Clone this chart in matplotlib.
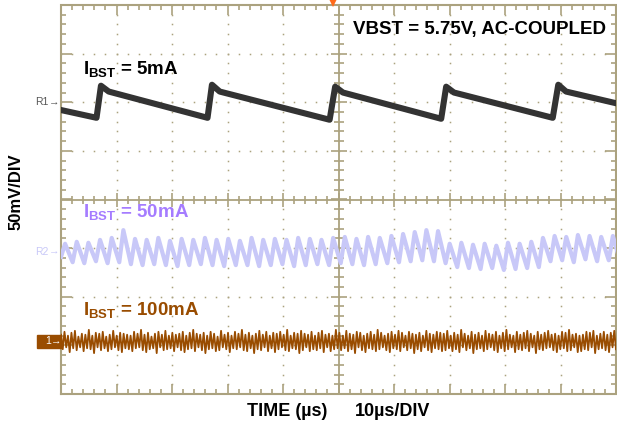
import numpy as np
import matplotlib
matplotlib.use("Agg")
import matplotlib.pyplot as plt
from matplotlib.patches import Rectangle

plt.rcParams['font.family'] = ['Liberation Sans', 'DejaVu Sans']
plt.rcParams['mathtext.fontset'] = 'custom'
plt.rcParams['mathtext.rm'] = 'Liberation Sans:bold'
plt.rcParams['mathtext.bf'] = 'Liberation Sans:bold'
plt.rcParams['mathtext.it'] = 'Liberation Sans:bold'

# scope setup: 10us/div, 50mV/div, 10 x 8 divisions
us_per_div = 10
mv_per_div = 50
n_hdiv, n_vdiv = 10, 8

# channel offsets, in divisions from screen centre
offset_5ma = 2.0
offset_50ma = -1.07
offset_100ma = -2.92

# IBST = 5mA: sawtooth corners (time in us, ripple in mV)
t_5ma = [0, 6.4, 7.2, 8.6, 26.4, 27.2, 28.6, 48.4, 49.4, 50.8,
         68.5, 69.4, 70.8, 88.6, 89.6, 91.0, 100]
v_5ma = [-8, -16, 17, 11, -16, 18, 11, -18, 16, 10,
         -17, 16, 10, -16, 18, 11, -1]

# IBST = 50mA: ripple period (us) and peak / valley of each cycle (mV)
period_50ma = 2.1
peak_50ma = [8, 10, 9, 12, 14, 22, 13, 12, 14, 11,
             13, 12, 14, 12, 13, 11, 14, 12, 13, 12,
             14, 13, 12, 14, 15, 13, 15, 14, 16, 18,
             20, 22, 21, 8, 9, 7, 8, 6, 9, 8,
             10, 14, 16, 15, 17, 16, 15, 16]
valley_50ma = [-11, -12, -10, -12, -11, -13, -14, -13, -14, -15,
               -14, -13, -14, -15, -14, -14, -15, -14, -13, -15,
               -14, -13, -14, -12, -13, -14, -13, -12, -11, -10,
               -9, -10, -12, -16, -17, -18, -17, -19, -18, -17,
               -16, -10, -9, -11, -8, -10, -9, -11]

# IBST = 100mA: switching noise samples across the screen (mV)
v_100ma = [
    7, -8, 10, -6, 6, -11, 9, -7, 11, -9, 5, -6, 8, -10, 7, -7, 12, -8, 6, -12,
    9, -6, 8, -9, 10, -7, 5, -10, 7, -8, 11, -6, 6, -9, 9, -11, 8, -7, 7, -8,
    6, -10, 10, -7, 8, -6, 12, -9, 7, -11, 9, -8, 5, -7, 8, -12, 10, -6, 7, -9,
    11, -8, 6, -7, 9, -10, 7, -6, 8, -9, 10, -11, 6, -8, 9, -7, 12, -10, 8, -6,
    7, -9, 9, -12, 6, -8, 10, -7, 8, -10, 5, -9, 11, -6, 7, -8, 9, -11, 6, -7,
    10, -8, 8, -6, 12, -9, 7, -10, 9, -7, 6, -12, 8, -8, 11, -9, 7, -6, 10, -10,
    6, -7, 9, -11, 8, -8, 10, -6, 7, -9, 12, -10, 6, -7, 9, -8, 8, -12, 11, -9,
    8, -6, 7, -10, 10, -8, 6, -9, 9, -7, 11, -11, 7, -6, 8, -10, 6, -8, 12, -7,
    9, -9, 6, -7, 11, -10, 8, -8, 7, -12, 10, -6, 9, -9, 6, -11, 8, -7, 10, -8,
    7, -10, 12, -8, 9, -6, 6, -9, 8, -11, 10, -7, 7, -8, 11, -10, 9, -6, 6, -9,
    10, -7, 8, -12, 7, -8, 9, -10, 6, -6, 11, -9, 8, -11, 7, -7, 10, -8, 9, -10,
    8, -9, 11, -7, 6, -10, 9, -8, 7, -11, 12, -6, 8, -9, 6, -7, 10, -12, 7, -8,
    9, -7, 6, -10, 11, -8, 8, -6, 7, -9, 10, -11, 6, -7, 9, -10, 12, -8, 7, -6,
    6, -11, 10, -8, 7, -9, 9, -7, 11, -10, 8, -6, 6, -12, 10, -8, 7, -9, 9, -7,
    11, -6, 7, -9, 8, -11, 6, -8, 10, -7, 9, -10, 12, -9, 7, -6, 8, -11, 6, -10,
    7, -8, 10, -9, 9, -6, 11, -12, 6, -8, 8, -7, 10, -9, 7, -11, 9, -6, 11, -8,
]

grat = '#ABA27F'
c_5ma = '#333333'
c_50ma = '#C8C8F8'
c_50ma_txt = '#A57CFF'
c_100ma = '#994C00'

W, H = 617, 428
fig = plt.figure(figsize=(W / 100, H / 100), dpi=100)
ax_l, ax_r, ax_t, ax_b = 61, 616, 5, 394
ax = fig.add_axes([ax_l / W, 1 - ax_b / H, (ax_r - ax_l) / W, (ax_b - ax_t) / H])
xmax = us_per_div * n_hdiv
ymax = n_vdiv / 2
ax.set_xlim(0, xmax)
ax.set_ylim(-ymax, ymax)
ax.axis('off')

# size of one screen pixel in data units
px_x = xmax / (ax_r - ax_l)
px_y = 2 * ymax / (ax_b - ax_t)

# --- graticule ---
minor_x = np.arange(0, xmax + 0.01, us_per_div / 5)
minor_y = np.arange(-ymax, ymax + 0.01, 0.2)
for xd in range(us_per_div, xmax, us_per_div):
    if xd != xmax / 2:
        ax.plot([xd] * len(minor_y), minor_y, ls='none', marker='s', ms=1.1,
                mew=0, color=grat)
for yd in range(-int(ymax) + 1, int(ymax)):
    if yd != 0:
        ax.plot(minor_x, [yd] * len(minor_x), ls='none', marker='s', ms=1.1,
                mew=0, color=grat)

ax.plot([0, xmax, xmax, 0, 0], [-ymax, -ymax, ymax, ymax, -ymax], color=grat,
        lw=1.5, clip_on=False, solid_joinstyle='miter')
ax.axhline(0, color=grat, lw=1.3)
ax.axvline(xmax / 2, color=grat, lw=1.3)

for x in minor_x:
    major = abs(x / us_per_div - round(x / us_per_div)) < 1e-6
    n = 10 if major else 5
    ax.vlines(x, ymax - n * px_y, ymax, color=grat, lw=1.2)
    ax.vlines(x, -ymax, -ymax + n * px_y, color=grat, lw=1.2)
    c = 7 if major else 4
    ax.vlines(x, -c * px_y, c * px_y, color=grat, lw=1.2)
for y in minor_y:
    major = abs(y - round(y)) < 1e-6
    n = 11 if major else 5
    ax.hlines(y, 0, n * px_x, color=grat, lw=1.2)
    ax.hlines(y, xmax - n * px_x, xmax, color=grat, lw=1.2)
    c = 8 if major else 5
    ax.hlines(y, xmax / 2 - c * px_x, xmax / 2 + c * px_x, color=grat, lw=1.2)

# --- traces ---
ax.plot(t_5ma, np.array(v_5ma) / mv_per_div + offset_5ma, color=c_5ma, lw=4.4,
        solid_joinstyle='round', zorder=5)

t50, v50 = [], []
for k, (p, v) in enumerate(zip(peak_50ma, valley_50ma)):
    t0 = k * period_50ma
    t50 += [t0 + 0.35 * period_50ma, t0 + period_50ma]
    v50 += [p, v]
t50 = [0] + t50
v50 = [valley_50ma[0] / 2] + v50
ax.plot(t50, np.array(v50) / mv_per_div + offset_50ma, color=c_50ma, lw=3.0,
        zorder=4, clip_on=True)

t100 = np.linspace(0, xmax, len(v_100ma))
ax.plot(t100, np.array(v_100ma) / mv_per_div + offset_100ma, color=c_100ma,
        lw=1.3, zorder=4)

# --- labels inside the screen ---
ax.text(4.0, 2.58, r'$\mathbf{I_{BST}}$ = 5mA', color='black', fontsize=13.5,
        fontweight='bold', va='baseline', zorder=6)
ax.text(4.0, -0.37, r'$\mathbf{I_{BST}}$ = 50mA', color=c_50ma_txt, fontsize=13.5,
        fontweight='bold', va='baseline', zorder=6)
ax.text(4.0, -2.37, r'$\mathbf{I_{BST}}$ = 100mA', color=c_100ma, fontsize=13.5,
        fontweight='bold', va='baseline', zorder=6)
ax.text(52.6, 3.40, 'VBST = 5.75V, AC-COUPLED', color='black', fontsize=13.5,
        fontweight='bold', va='baseline', zorder=6)

# --- channel markers on the left edge ---
def fy(ypx):
    return 1 - ypx / H

y_r1 = ax_t + (ymax - offset_5ma) / px_y
y_r2 = ax_t + (ymax - offset_50ma) / px_y
y_c1 = ax_t + (ymax - offset_100ma) / px_y
fig.text(35 / W, fy(y_r1), 'R1', color='#555555', fontsize=7.5, va='center')
fig.text(49 / W, fy(y_r1), '\u2192', color='#555555', fontsize=7.5, va='center')
fig.text(35 / W, fy(y_r2), 'R2', color=c_50ma, fontsize=7.5, va='center')
fig.text(49 / W, fy(y_r2), '\u2192', color=c_50ma, fontsize=7.5, va='center')
fig.patches.append(Rectangle((37 / W, fy(y_c1 + 6.5)), 24 / W, 13 / H,
                             transform=fig.transFigure, color=c_100ma))
fig.text(45 / W, fy(y_c1), '1', color='white', fontsize=7.5, va='center')
fig.text(51 / W, fy(y_c1), '\u2192', color='white', fontsize=7.5, va='center')

# trigger position marker
ax.plot([(333 - ax_l) * px_x], [ymax + 2 * px_y], marker='v', ms=6, mew=0,
        color='#FF6A1A', clip_on=False, zorder=7)

# --- outer axis captions ---
fig.text(16 / W, fy(192), '50mV/DIV', rotation=90, fontsize=12,
         fontweight='bold', ha='center', va='center')
fig.text(247 / W, fy(412), 'TIME (\u00b5s)', fontsize=13, fontweight='bold',
         va='center')
fig.text(355 / W, fy(412), '10\u00b5s/DIV', fontsize=13, fontweight='bold',
         va='center')

fig.savefig('out.png', dpi=100)
